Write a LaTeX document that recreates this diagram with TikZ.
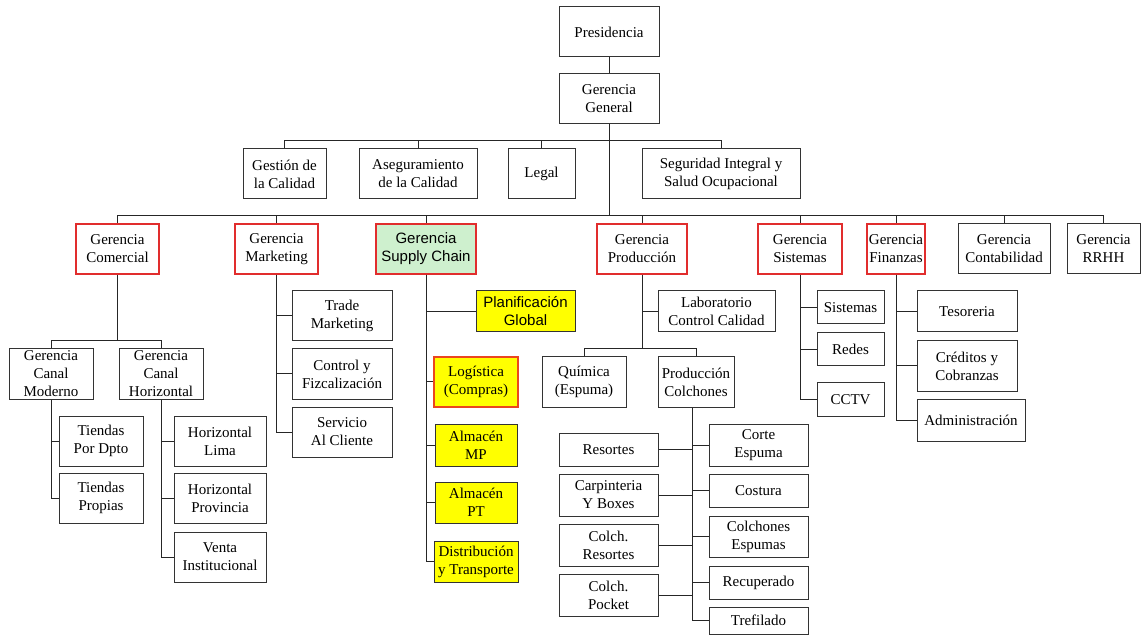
\documentclass[tikz,border=0pt]{standalone}
\usepackage{fontspec}
\setmainfont{Liberation Serif}
\newfontfamily\arialfont{Liberation Sans}
\definecolor{mgrred}{RGB}{225,45,45}
\definecolor{logred}{RGB}{235,70,30}
\definecolor{chaingreen}{RGB}{206,240,206}
\definecolor{hlyellow}{RGB}{255,255,0}
% \bx{style}{name}{x1}{y1}{x2}{y2}{text}: box spanning the given corners
\newcommand\bx[7]{\node[box,#1,minimum width={(#5-#3)*1pt},minimum height={(#6-#4)*1pt}] (#2) at ({(#3+#5)/2},{(#4+#6)/2}) {#7};}
\begin{document}
\begin{tikzpicture}[x=1pt,y=-1pt,
  box/.style={draw=black!80,line width=1pt,fill=white,inner sep=0pt,align=center,
    font=\fontsize{15}{18}\selectfont},
  mgr/.style={draw=mgrred,line width=2pt},
  sans/.style={font=\arialfont\fontsize{15}{18}\selectfont},
  hl/.style={fill=hlyellow},
  link/.style={draw=black!85,line width=1pt}]
\fill[white] (0,0) rectangle (1141,636);
\useasboundingbox (0,0) rectangle (1141,636);

% top management
\bx{}{pres}{559}{7}{659}{57}{Presidencia}
\bx{}{gg}{559}{74}{659}{124}{Gerencia\\General}
\bx{}{gest}{243}{149}{326}{199}{Gestión de\\la Calidad}
\bx{}{aseg}{359}{149}{477}{199}{Aseguramiento\\de la Calidad}
\bx{}{legal}{508}{149}{575}{199}{Legal}
\bx{}{seg}{642}{149}{800}{199}{Seguridad Integral y\\Salud Ocupacional}

% managements
\bx{mgr}{com}{76}{224}{159}{274}{Gerencia\\Comercial}
\bx{mgr}{mkt}{235}{224}{318}{274}{Gerencia\\Marketing}
\bx{mgr,sans,fill=chaingreen}{sc}{376}{224}{476}{274}{Gerencia\\Supply Chain}
\bx{mgr}{prod}{597}{224}{687}{274}{Gerencia\\Producción}
\bx{mgr}{sis}{758}{224}{842}{274}{Gerencia\\Sistemas}
\bx{mgr}{fin}{867}{224}{925}{274}{Gerencia\\Finanzas}
\bx{}{cont}{958}{224}{1050}{274}{Gerencia\\Contabilidad}
\bx{}{rrhh}{1067}{224}{1140}{274}{Gerencia\\RRHH}

% commercial
\bx{}{cmod}{9}{349}{93}{399}{Gerencia\\Canal\\Moderno}
\bx{}{chor}{119}{349}{203}{399}{Gerencia\\Canal\\Horizontal}
\bx{}{tdpto}{59}{416}{143}{466}{Tiendas\\Por Dpto}
\bx{}{tprop}{59}{473}{143}{523}{Tiendas\\Propias}
\bx{}{hlima}{174}{416}{266}{466}{Horizontal\\Lima}
\bx{}{hprov}{174}{473}{266}{523}{Horizontal\\Provincia}
\bx{}{venta}{174}{532}{266}{582}{Venta\\Institucional}

% marketing
\bx{}{trade}{292}{291}{392}{341}{Trade\\Marketing}
\bx{}{ctrl}{292}{349}{392}{399}{Control y\\Fizcalización}
\bx{}{serv}{292}{407}{392}{457}{Servicio\\Al Cliente}

% supply chain
\bx{sans,hl}{plan}{476}{291}{575}{332}{Planificación\\Global}
\bx{hl,draw=logred,line width=2pt}{log}{434}{357}{518}{407}{Logística\\(Compras)}
\bx{hl}{amp}{435}{424}{517}{466}{Almacén\\MP}
\bx{hl}{apt}{435}{482}{517}{523}{Almacén\\PT}
\bx{hl}{dist}{434}{541}{518}{582}{Distribución\\y Transporte}

% production
\bx{}{lab}{658}{291}{775}{332}{Laboratorio\\Control Calidad}
\bx{}{qui}{542}{357}{626}{407}{Química\\(Espuma)}
\bx{}{colc}{658}{357}{734}{407}{Producción\\Colchones}
\bx{}{reso}{559}{433}{658}{466}{Resortes}
\bx{}{carp}{559}{474}{658}{516}{Carpinteria\\Y Boxes}
\bx{}{cres}{559}{524}{658}{566}{Colch.\\Resortes}
\bx{}{cpoc}{559}{574}{658}{616}{Colch.\\Pocket}
\bx{}{corte}{709}{424}{808}{466}{Corte\\Espuma}
\bx{}{cost}{709}{474}{808}{507}{Costura}
\bx{}{cesp}{709}{516}{808}{557}{Colchones\\Espumas}
\bx{}{recu}{709}{566}{808}{599}{Recuperado}
\bx{}{tref}{709}{607}{808}{634}{Trefilado}

% systems
\bx{}{ssis}{817}{291}{884}{324}{Sistemas}
\bx{}{redes}{817}{333}{884}{366}{Redes}
\bx{}{cctv}{817}{383}{884}{416}{CCTV}

% finance
\bx{}{teso}{917}{291}{1017}{332}{Tesoreria}
\bx{}{cred}{917}{341}{1017}{391}{Créditos y\\Cobranzas}
\bx{}{adm}{917}{399}{1025}{441}{Administración}

% connectors
\coordinate (r1) at (0,141);
\coordinate (bar) at (0,216);
\coordinate (cbar) at (0,341);
\coordinate (pbar) at (0,349);
\draw[link] (pres) -- (gg);
\draw[link] (gg.south) -- (gg.south |- bar);
\draw[link] (gest.north) |- (r1 -| seg.north) -- (seg.north);
\foreach \n in {aseg,legal} \draw[link] (\n.north) -- (\n.north |- r1);
\draw[link] (com.north) |- (bar -| rrhh.north) -- (rrhh.north);
\foreach \n in {mkt,sc,prod,sis,fin,cont} \draw[link] (\n.north) -- (\n.north |- bar);

\draw[link] (com.south) -- (com.south |- cbar);
\draw[link] (cmod.north) |- (cbar -| chor.north) -- (chor.north);
\foreach \c in {tdpto,tprop} \draw[link] (cmod.south) |- (\c.west);
\foreach \c in {hlima,hprov,venta} \draw[link] (chor.south) |- (\c.west);

\foreach \c in {trade,ctrl,serv} \draw[link] (mkt.south) |- (\c.west);
\foreach \c in {plan,log,amp,apt,dist} \draw[link] (sc.south) |- (\c.west);

\draw[link] (prod.south) |- (lab.west);
\draw[link] (prod.south) -- (prod.south |- pbar);
\draw[link] (qui.north) |- (pbar -| colc.north) -- (colc.north);
\coordinate (spine) at ([xshift=-4pt]colc.south);
\draw[link] (spine) -- (spine |- tref.west);
\foreach \c in {reso,carp,cres,cpoc} \draw[link] (\c.east) -- (\c.east -| spine);
\foreach \c in {corte,cost,cesp,recu,tref} \draw[link] (spine |- \c.west) -- (\c.west);

\foreach \c in {ssis,redes,cctv} \draw[link] (sis.south) |- (\c.west);
\foreach \c in {teso,cred,adm} \draw[link] (fin.south) |- (\c.west);
\end{tikzpicture}
\end{document}
